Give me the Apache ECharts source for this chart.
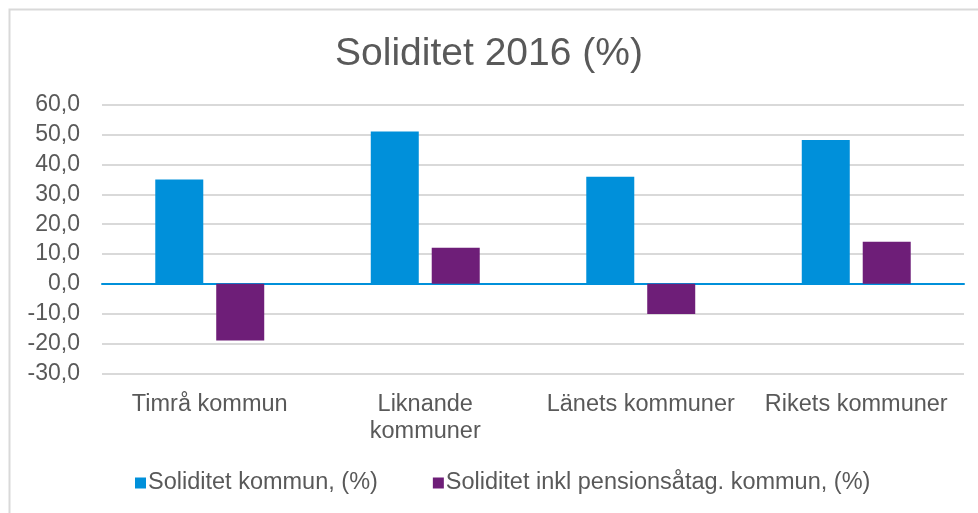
<!DOCTYPE html>
<html>
<head>
<meta charset="utf-8">
<script src="https://cdn.jsdelivr.net/npm/echarts@6/dist/echarts.min.js"></script>
<style>
  html, body { margin: 0; padding: 0; background: #fff; }
  #chart { width: 978px; height: 513px; }
</style>
</head>
<body>
<div id="chart"></div>
<script>
const categories = ["Timrå kommun", "Liknande\nkommuner", "Länets kommuner", "Rikets kommuner"];
const solidity = [35.0, 51.1, 35.9, 48.3];
const solidityPension = [-19.0, 12.1, -10.1, 14.1];
const seriesNames = ["Soliditet kommun, (%)", "Soliditet inkl pensionsåtag. kommun, (%)"];

const textColor = "#595959";
const font = "Liberation Sans, Arial, sans-serif";

const chart = echarts.init(document.getElementById("chart"));

chart.setOption({
  animation: false,
  textStyle: { fontFamily: font },
  title: {
    text: "Soliditet 2016 (%)",
    left: "center",
    top: 30,
    textStyle: { fontSize: 39, fontWeight: "normal", color: textColor, fontFamily: font }
  },
  legend: {
    bottom: 13,
    left: 130,
    itemWidth: 11,
    itemHeight: 11,
    itemGap: 55,
    icon: "rect",
    textStyle: { fontSize: 23.5, color: textColor, padding: [0, 0, 0, -3] },
    data: seriesNames
  },
  grid: {
    left: 102,
    right: 14,
    top: 105,
    height: 268.3
  },
  xAxis: {
    type: "category",
    data: categories,
    axisTick: { show: false },
    axisLine: { lineStyle: { color: "#0090da", width: 2 } },
    axisLabel: { color: textColor, fontSize: 23.5, margin: 18, lineHeight: 27, interval: 0 }
  },
  yAxis: {
    type: "value",
    min: -30,
    max: 60,
    interval: 10,
    axisLine: { show: false },
    axisTick: { show: false },
    splitLine: { lineStyle: { color: "#d9d9d9", width: 2 } },
    axisLabel: {
      color: textColor,
      fontSize: 23,
      margin: 22,
      formatter: v => v.toFixed(1).replace(".", ",")
    }
  },
  graphic: [{
    type: "rect",
    shape: { x: 9.5, y: 9.5, width: 1000, height: 600 },
    style: { fill: "none", stroke: "#d9d9d9", lineWidth: 2 },
    silent: true
  }],
  series: [
    {
      name: seriesNames[0],
      type: "bar",
      data: solidity,
      barWidth: 48,
      barGap: "27%",
      itemStyle: { color: "#0090da" }
    },
    {
      name: seriesNames[1],
      type: "bar",
      data: solidityPension,
      barWidth: 48,
      itemStyle: { color: "#6e1e78" }
    }
  ]
});
</script>
</body>
</html>
